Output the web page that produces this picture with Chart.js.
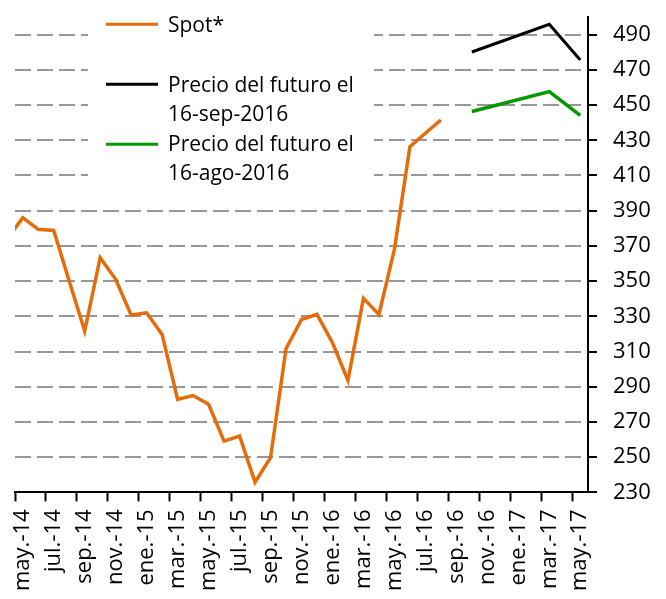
<!DOCTYPE html>
<html>
<head>
<meta charset="utf-8">
<script src="https://cdn.jsdelivr.net/npm/chart.js@4"></script>
<style>
  html, body { margin: 0; padding: 0; background: #fff; }
  #wrap { width: 666px; height: 599px; }
</style>
</head>
<body>
<div id="wrap"><canvas id="precios"></canvas></div>
<script>
// etiquetas del eje x (cada dos meses, desde may.-14)
const etiquetas = ["may.-14", "jul.-14", "sep.-14", "nov.-14", "ene.-15", "mar.-15", "may.-15",
  "jul.-15", "sep.-15", "nov.-15", "ene.-16", "mar.-16", "may.-16", "jul.-16", "sep.-16",
  "nov.-16", "ene.-17", "mar.-17", "may.-17"];
const ticksY = [230, 250, 270, 290, 310, 330, 350, 370, 390, 410, 430, 450, 470, 490];

// spot mensual, abr.-14 (mes -1) a ago.-16 (mes 27)
const spotInicio = -1;
const spot = [374, 386, 379.4, 378.8, 350, 321.6, 363.3, 351, 330.7,
  332, 319.7, 282.8, 285, 280, 259.1, 262, 235.8, 249.7, 311.6, 328.2, 331.1,
  315, 293.6, 340.2, 331.1, 368, 426.4, 434, 441.5];

// futuros: oct.-16, mar.-17, may.-17 (meses desde may.-14)
const mesesFuturo = [29, 34, 36];
const futuroSep = [480.1, 495.9, 475.6];
const futuroAgo = [446.3, 457.6, 444.1];

const series = [
  { label: "Spot*", color: "#E46C0A", lineas: ["Spot*"] },
  { label: "Precio del futuro el 16-sep-2016", color: "#000000", lineas: ["Precio del futuro el", "16-sep-2016"] },
  { label: "Precio del futuro el 16-ago-2016", color: "#009A00", lineas: ["Precio del futuro el", "16-ago-2016"] }
];

const fuente = "'Open Sans', 'Noto Sans', sans-serif";

// cada valor va en el centro de su mes
const spotData = spot.map((v, i) => ({ x: spotInicio + i + 0.5, y: v }));
const sepData = futuroSep.map((v, i) => ({ x: mesesFuturo[i] + 0.5, y: v }));
const agoData = futuroAgo.map((v, i) => ({ x: mesesFuturo[i] + 0.5, y: v }));

// leyenda propia, con fondo blanco que tapa la cuadrícula
const leyenda = {
  id: "leyenda",
  beforeDatasetsDraw(chart) {
    const ctx = chart.ctx;
    ctx.save();
    ctx.fillStyle = "#fff";
    ctx.fillRect(88, 0, 286, 195);
    ctx.font = "21px " + fuente;
    ctx.fillStyle = "#000";
    ctx.textBaseline = "alphabetic";
    const filas = [
      { y: 24.3, base: [32.3] },
      { y: 84.3, base: [92.3, 120.7] },
      { y: 144.3, base: [150.7, 180] }
    ];
    series.forEach((s, i) => {
      ctx.strokeStyle = s.color;
      ctx.lineWidth = 3;
      ctx.beginPath();
      ctx.moveTo(106, filas[i].y);
      ctx.lineTo(158, filas[i].y);
      ctx.stroke();
      s.lineas.forEach((t, j) => ctx.fillText(t, 168, filas[i].base[j]));
    });
    ctx.restore();
  }
};

new Chart(document.getElementById("precios"), {
  type: "line",
  data: {
    datasets: [
      { label: series[0].label, data: spotData, borderColor: series[0].color, borderWidth: 3.5, clip: 0 },
      { label: series[1].label, data: sepData, borderColor: series[1].color, borderWidth: 3 },
      { label: series[2].label, data: agoData, borderColor: series[2].color, borderWidth: 3.5 }
    ]
  },
  options: {
    responsive: true,
    maintainAspectRatio: false,
    animation: false,
    elements: { point: { radius: 0 }, line: { tension: 0, borderJoinStyle: "miter" } },
    layout: { padding: { left: 15, right: 0, top: 17, bottom: 0 } },
    plugins: { legend: { display: false }, tooltip: { enabled: false } },
    scales: {
      x: {
        type: "linear",
        min: 0,
        max: 37,
        afterBuildTicks: s => { s.ticks = etiquetas.map((_, i) => ({ value: i * 2 })); },
        grid: { drawOnChartArea: false, drawTicks: true, tickLength: 9, tickColor: "#000", tickWidth: 2 },
        border: { display: true, color: "#000", width: 2 },
        ticks: {
          autoSkip: false,
          minRotation: 90,
          maxRotation: 90,
          padding: 8,
          labelOffset: 7.7,
          color: "#000",
          font: { family: fuente, size: 22 },
          callback: (v, i) => etiquetas[i]
        }
      },
      y: {
        position: "right",
        min: 230,
        max: 500,
        afterBuildTicks: s => { s.ticks = ticksY.map(v => ({ value: v })); },
        afterFit: s => { s.paddingTop = 0; s.paddingBottom = 0; s.width = 78; },
        grid: {
          color: c => (c.tick && c.tick.value === 230 ? "rgba(0,0,0,0)" : "#979797"),
          lineWidth: 2,
          tickColor: "#000",
          tickWidth: 2,
          tickLength: 9,
          tickBorderDash: []
        },
        border: { display: true, color: "#000", width: 2, dash: [16, 6] },
        ticks: {
          padding: 16,
          color: "#000",
          font: { family: fuente, size: 22 }
        }
      }
    }
  },
  plugins: [leyenda]
});
</script>
</body>
</html>
